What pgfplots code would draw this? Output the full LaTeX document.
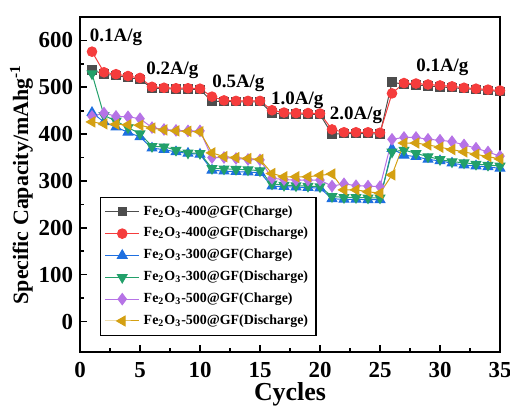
\documentclass[border=0pt]{standalone}
\usepackage{fontspec}
\setmainfont{Liberation Serif}
\usepackage{pgfplots}
\pgfplotsset{compat=1.18}
\usepackage{pgfplotstable}
\usetikzlibrary{calc}
\definecolor{cblack}{HTML}{4D4D4D}
\definecolor{cred}{HTML}{F53C3C}
\definecolor{cblue}{HTML}{1E6FE0}
\definecolor{cgreen}{HTML}{22A06A}
\definecolor{cpurple}{HTML}{B673E6}
\definecolor{cgold}{HTML}{D4A012}
\pgfplotstableread{
c  a    b    d    e    f    g
1  537  576  446  529  438  426
2  528  532  426  440  445  422
3  525  528  415  428  438  421
4  521  524  404  414  437  420
5  517  520  394  401  433  419
6  498  501  370  374  414  413
7  497  499  367  373  410  409
8  496  498  362  366  408  407
9  496  498  359  360  407  406
10 495  497  357  359  407  405
11 470  480  323  327  350  360
12 470  472  321  326  350  352
13 469  471  320  325  348  350
14 469  471  319  324  346  348
15 469  471  318  322  345  346
16 445  451  289  294  306  316
17 443  446  288  291  303  309
18 443  445  287  290  302  309
19 442  445  286  289  302  309
20 442  444  285  288  302  312
21 400  410  262  267  289  315
22 401  404  261  265  294  281
23 401  404  261  265  290  281
24 401  404  260  264  289  277
25 400  403  260  264  288  274
26 511  487  369  362  389  313
27 506  509  355  366  393  381
28 505  508  352  359  393  381
29 503  506  346  352  389  377
30 501  504  343  346  387  372
31 499  502  338  341  384  367
32 497  499  334  339  377  362
33 495  497  332  336  370  357
34 493  495  330  334  362  352
35 491  493  327  332  353  347
}\data
\begin{document}
\begin{tikzpicture}
\begin{axis}[
  scale only axis, width=210bp, height=167.5bp,
  xmin=0, xmax=35, ymin=-65, ymax=650,
  xtick={0,5,...,35}, ytick={0,100,...,600},
  minor x tick num=1, minor y tick num=1,
  xtick pos=bottom, ytick pos=left,
  tick align=inside,
  major tick length=3.5bp, minor tick length=2bp,
  axis line style={line width=1.1pt},
  every tick/.style={line width=0.8pt, black},
  /pgf/number format/assume math mode=true,
  tick label style={font=\fontsize{11.5}{13}\selectfont\bfseries},
  xticklabel style={yshift=-1.5bp},
  xlabel={\fontsize{13}{15}\selectfont\bfseries Cycles},
  ylabel={\fontsize{11}{13}\selectfont\bfseries Specific Capacity/mAhg\textsuperscript{-1}},
  xlabel style={at={(axis description cs:0.5,0)}, anchor=base, yshift=-24bp},
  ylabel style={yshift=-4bp},
  legend cell align=left,
  legend style={at={(rel axis cs:0.048,0.463)}, anchor=north west,
    font=\fontsize{7}{8.5}\selectfont\bfseries, draw=black, line width=0.6pt,
    row sep=0.6bp, inner sep=2pt},
  every axis plot/.append style={line width=0.5pt},
  mark size=2.4pt,
]
\coordinate (bl) at (rel axis cs:0,0);
\coordinate (tr) at (rel axis cs:1,1);
\addplot[cblack, mark=square*, mark size=2.1pt, mark options={fill=cblack}] table[x=c,y=a]{\data};
\addlegendentry{Fe\textsubscript{2}O\textsubscript{3}-400@GF(Charge)}
\addplot[cred, mark=*, mark options={fill=cred}] table[x=c,y=b]{\data};
\addlegendentry{Fe\textsubscript{2}O\textsubscript{3}-400@GF(Discharge)}
\addplot[cblue, mark=triangle*, mark size=2.8pt, mark options={fill=cblue}] table[x=c,y=d]{\data};
\addlegendentry{Fe\textsubscript{2}O\textsubscript{3}-300@GF(Charge)}
\addplot[cgreen, mark=triangle*, mark size=2.8pt, mark options={fill=cgreen, rotate=180}] table[x=c,y=e]{\data};
\addlegendentry{Fe\textsubscript{2}O\textsubscript{3}-300@GF(Discharge)}
\addplot[cpurple, mark=diamond*, mark size=2.8pt, mark options={fill=cpurple}] table[x=c,y=f]{\data};
\addlegendentry{Fe\textsubscript{2}O\textsubscript{3}-500@GF(Charge)}
\addplot[cgold, mark=triangle*, mark size=2.8pt, mark options={fill=cgold, rotate=90}] table[x=c,y=g]{\data};
\addlegendentry{Fe\textsubscript{2}O\textsubscript{3}-500@GF(Discharge)}
\node[font=\fontsize{9.5}{11}\selectfont\bfseries] at (axis cs:3.0,606) {0.1A/g};
\node[font=\fontsize{9.5}{11}\selectfont\bfseries] at (axis cs:7.7,536) {0.2A/g};
\node[font=\fontsize{9.5}{11}\selectfont\bfseries] at (axis cs:13.2,508) {0.5A/g};
\node[font=\fontsize{9.5}{11}\selectfont\bfseries] at (axis cs:18.1,472) {1.0A/g};
\node[font=\fontsize{9.5}{11}\selectfont\bfseries] at (axis cs:23.0,440) {2.0A/g};
\node[font=\fontsize{9.5}{11}\selectfont\bfseries] at (axis cs:30.2,543) {0.1A/g};
\end{axis}
\pgfresetboundingbox
\path ($(bl)+(-40bp,-27.5bp)$) rectangle ($(tr)+(5bp,8.5bp)$);
\end{tikzpicture}
\end{document}
